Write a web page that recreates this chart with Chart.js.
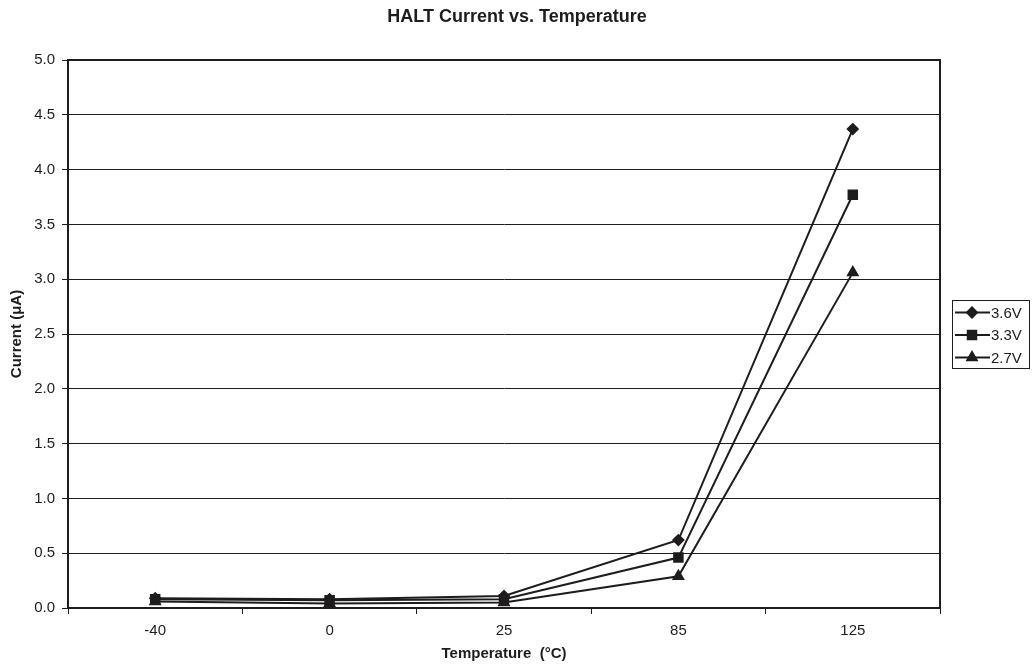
<!DOCTYPE html>
<html>
<head>
<meta charset="utf-8">
<script src="https://cdn.jsdelivr.net/npm/chart.js@4.4.1/dist/chart.umd.min.js"></script>
<style>
html,body{margin:0;padding:0;background:#fff;}
canvas{display:block;}
</style>
</head>
<body>
<canvas id="c" width="1034" height="668"></canvas>
<script>
const categories = ['-40', '0', '25', '85', '125'];
const series36 = [0.09, 0.08, 0.11, 0.62, 4.37];
const series33 = [0.08, 0.07, 0.08, 0.46, 3.77];
const series27 = [0.06, 0.04, 0.05, 0.29, 3.06];
const seriesNames = ['3.6V', '3.3V', '2.7V'];
const yTicks = ['0.0','0.5','1.0','1.5','2.0','2.5','3.0','3.5','4.0','4.5','5.0'];

const INK = '#1e1c1d';
const FONT = "'Liberation Sans', Arial, Helvetica, sans-serif";

const frame = {
  id: 'frame',
  afterDatasetsDraw(chart) {
    const {ctx, chartArea: a} = chart;
    ctx.save();
    ctx.strokeStyle = INK;
    ctx.lineWidth = 2;
    ctx.strokeRect(a.left, a.top, a.right - a.left, a.bottom - a.top);
    ctx.restore();
  },
  afterDraw(chart) {
    const {ctx, chartArea: a} = chart;
    const boxL = 952, boxR = 1029, boxH = 68;
    const cy = (a.top + a.bottom) / 2;
    const boxT = Math.round(cy - boxH / 2) + 0.5;
    ctx.save();
    ctx.strokeStyle = INK;
    ctx.lineWidth = 1;
    ctx.strokeRect(boxL + 0.5, boxT, boxR - boxL, boxH);
    ctx.font = '15px ' + FONT;
    ctx.textBaseline = 'middle';
    ctx.fillStyle = INK;
    chart.data.datasets.forEach((ds, i) => {
      const y = boxT + 12 + i * 22.5;
      ctx.beginPath();
      ctx.lineWidth = 2;
      ctx.moveTo(955, y);
      ctx.lineTo(990, y);
      ctx.stroke();
      Chart.helpers.drawPoint(ctx, {pointStyle: ds.pointStyle, radius: ds.pointRadius, rotation: 0, borderWidth: 1}, 972, y);
      ctx.fill();
      ctx.fillText(ds.label, 991, y + 1);
    });
    ctx.restore();
  }
};

const mk = (label, data, style, r) => ({
  label, data,
  borderColor: INK, backgroundColor: INK,
  borderWidth: 2,
  pointStyle: style,
  pointRadius: r,
  pointBackgroundColor: INK, pointBorderColor: INK,
  tension: 0
});

new Chart(document.getElementById('c'), {
  type: 'line',
  data: {
    labels: categories,
    datasets: [
      mk(seriesNames[0], series36, 'rectRot', 5),
      mk(seriesNames[1], series33, 'rect', 6),
      mk(seriesNames[2], series27, 'triangle', 5.5)
    ]
  },
  options: {
    responsive: false,
    animation: false,
    layout: {padding: {left: 0, right: 0, top: 0, bottom: 0}},
    plugins: {
      legend: {display: false},
      tooltip: {enabled: false},
      title: {
        display: true,
        text: 'HALT Current vs. Temperature',
        color: INK,
        font: {family: FONT, size: 18, weight: 'bold'},
        padding: {top: 6, bottom: 32.4}
      }
    },
    scales: {
      x: {
        type: 'category',
        offset: true,
        grid: {display: true, offset: true, drawOnChartArea: false, drawTicks: true, tickLength: 6, color: INK, lineWidth: 1},
        border: {display: true, color: INK, width: 2},
        ticks: {color: INK, font: {family: FONT, size: 15}, padding: 8, maxRotation: 0},
        title: {display: true, text: 'Temperature  (°C)', color: INK, font: {family: FONT, size: 15, weight: 'bold'}, padding: {top: 2, bottom: 5}},
        afterFit(s) { s.height = 60; }
      },
      y: {
        min: 0, max: 5,
        ticks: {
          stepSize: 0.5, color: INK, font: {family: FONT, size: 15}, padding: 7,
          callback: (v, i) => yTicks[i]
        },
        grid: {color: INK, lineWidth: 1, tickLength: 6, drawTicks: true},
        border: {display: true, color: INK, width: 2},
        title: {display: true, text: 'Current (μA)', color: INK, font: {family: FONT, size: 15, weight: 'bold'}, padding: {top: 8, bottom: 4}},
        afterFit(s) { s.width = 68; }
      },
      y2: {
        position: 'right',
        min: 0, max: 1,
        display: true,
        grid: {display: false, drawTicks: false},
        border: {display: false},
        ticks: {display: false},
        afterFit(s) { s.width = 94; }
      }
    }
  },
  plugins: [frame]
});
</script>
</body>
</html>
